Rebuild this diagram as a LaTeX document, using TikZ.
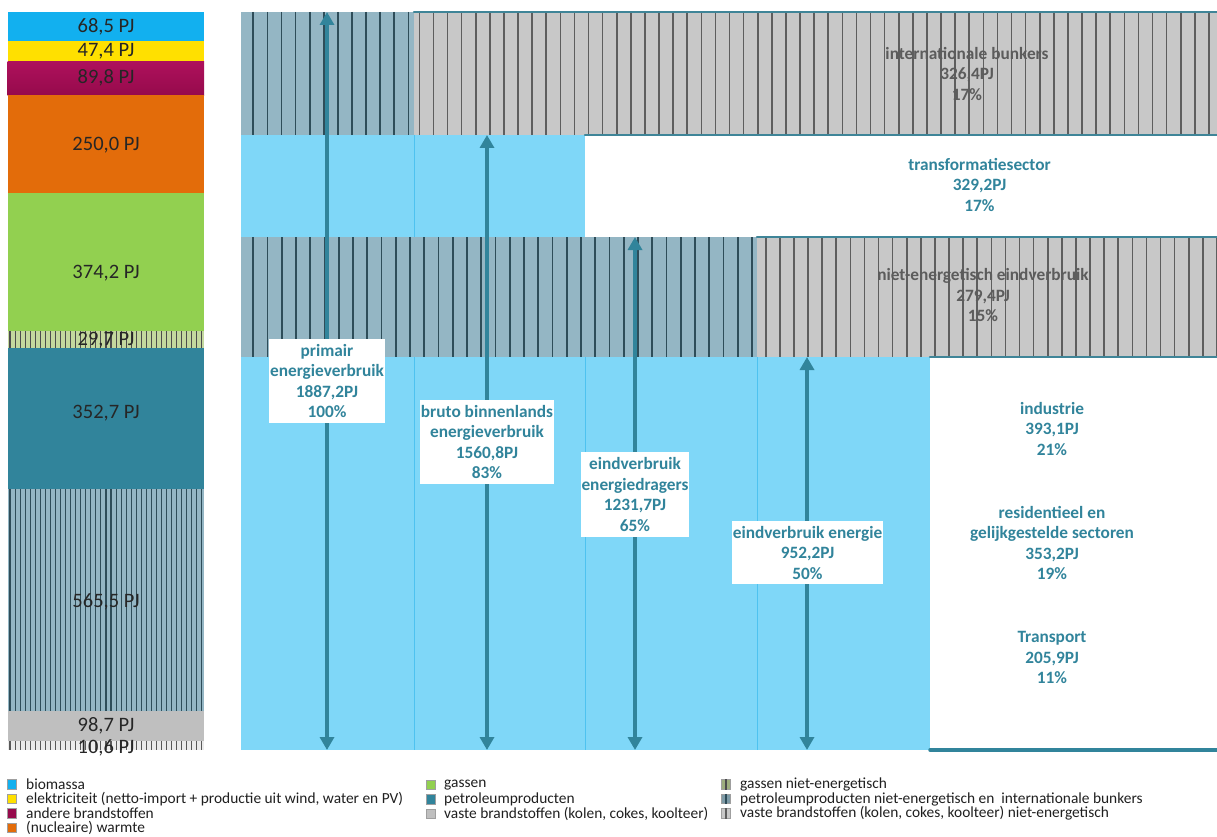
\documentclass[tikz,border=0pt]{standalone}
\usepackage{fontspec}
\setmainfont{Carlito}
\usetikzlibrary{arrows.meta}

% energy carrier colours
\definecolor{cbio}{HTML}{12B0EF}
\definecolor{celek}{HTML}{FFE000}
\definecolor{cotherA}{HTML}{AE115C}
\definecolor{cotherB}{HTML}{960A4C}
\definecolor{cheat}{HTML}{E36C0A}
\definecolor{cgas}{HTML}{92D050}
\definecolor{cgasne}{HTML}{C4D89E}
\definecolor{cpetro}{HTML}{31849B}
\definecolor{cpetrone}{HTML}{94B6C4}
\definecolor{csolid}{HTML}{BFBFBF}
\definecolor{csolidne}{HTML}{C8C8C8}
\definecolor{cstripeB}{HTML}{2E4D59}
\definecolor{cstripeG}{HTML}{5E5E5E}
% flow diagram colours
\definecolor{cflow}{HTML}{7FD7F8}
\definecolor{cdivider}{HTML}{4EC2F0}
\definecolor{cteal}{HTML}{31849B}
\definecolor{cedge}{HTML}{3F8598}
\definecolor{cgraytext}{HTML}{5C5C5C}

% vertically hatched rectangle:
% #1,#2 top-left; #3,#4 bottom-right; #5 first stripe x; #6 pitch;
% #7 base colour; #8 stripe colour; #9 stripe width
\newcommand\hatchrect[9]{%
  \fill[#7] (#1,#2) rectangle (#3,#4);
  \begin{scope}
    \clip (#1,#2) rectangle (#3,#4);
    \pgfmathtruncatemacro\hatchcount{(#3-#5)/#6}
    \foreach \hi in {0,...,\hatchcount}
      \draw[#8, line width=#9] ({#5+#6*\hi},#2) -- ({#5+#6*\hi},#4);
  \end{scope}}

\tikzset{
  stackval/.style={anchor=base, inner sep=0pt, font=\fontsize{20.5}{22}\selectfont, text=black!85},
  infobox/.style={fill=white, align=center, inner sep=0pt, text=cteal,
    font=\fontsize{17.3}{20.5}\selectfont\bfseries},
  sectorlabel/.style={align=center, inner sep=0pt, text=cteal,
    font=\fontsize{17.3}{20.5}\selectfont\bfseries},
  hatchlabel/.style={sectorlabel, text=cgraytext},
  flowarrow/.style={cteal, line width=3.5pt,
    {Triangle[width=14pt,length=13pt]}-{Triangle[width=14pt,length=13pt]}},
  bandedge/.style={cedge, line width=2.5pt, line cap=round},
  divider/.style={cdivider, line width=1pt},
  legmark/.style={draw=gray!75, line width=0.8pt, minimum size=9.5pt, inner sep=0pt},
  legtext/.style={anchor=west, inner sep=0pt, font=\fontsize{15.4}{15.4}\selectfont, text=black!88},
}

\begin{document}
\begin{tikzpicture}[x=1pt, y=-1pt]
\useasboundingbox (0,0) rectangle (1217,837);

% ---------- stacked column of primary energy by carrier ----------
\fill[cbio]  (7.5,12)   rectangle (204,41);
\fill[celek] (7.5,41)   rectangle (204,61.5);
\shade[top color=cotherA, bottom color=cotherB] (7.5,61.5) rectangle (204,95.3);
\fill[cheat] (7.5,95.3) rectangle (204,192.7);
\fill[cgas]  (7.5,192.7) rectangle (204,331);
\hatchrect{7.5}{331}{204}{347.5}{10}{5.05}{cgasne}{black!70}{1.1}
\fill[cpetro] (7.5,347.5) rectangle (204,489);
\hatchrect{7.5}{489}{204}{710.5}{10}{5.05}{cpetrone}{cstripeB}{1.1}
\fill[csolid] (7.5,710.5) rectangle (204,741);
\hatchrect{7.5}{741}{204}{750}{10}{5.05}{white!92!black}{black!65}{1.1}

\node[stackval] (vbio)   at (106,33)  {68,5 PJ};
\node[stackval] (velek)  at (106,57)  {47,4 PJ};
\node[stackval] (voth)   at (106,84)  {89,8 PJ};
\node[stackval] (vheat)  at (106,151) {250,0 PJ};
\node[stackval] (vgas)   at (106,278) {374,2 PJ};
\node[stackval] (vgasne) at (106,345) {29,7 PJ};
\node[stackval] (vpet)   at (106,418) {352,7 PJ};
\node[stackval] (vpetne) at (106,607) {565,5 PJ};
\node[stackval] (vsol)   at (106,731) {98,7 PJ};
\node[stackval] (vsolne) at (106,753) {10,6 PJ};

% ---------- flow bands ----------
\fill[cflow] (241,135) rectangle (585,237);
\fill[cflow] (241,357) rectangle (930,750);
\hatchrect{241}{12}{414}{135}{253.3}{14.1}{cpetrone}{cstripeB}{1.7}
\hatchrect{414}{12}{1217}{135}{419.3}{14.1}{csolidne}{cstripeG}{1.6}
\hatchrect{241}{237}{757}{357}{253.3}{14.25}{cpetrone}{cstripeB}{1.7}
\hatchrect{757}{237}{1217}{357}{765.7}{14.1}{csolidne}{cstripeG}{1.6}

\draw[divider] (414,135) -- (414,237);
\draw[divider] (414,357) -- (414,750);
\draw[divider] (585,357) -- (585,750);
\draw[divider] (757,357) -- (757,750);

\draw[bandedge] (414,12)  -- (1217,12);
\draw[bandedge] (585,135) -- (1217,135);
\draw[bandedge] (757,237) -- (1217,237);
\draw[bandedge] (930,357) -- (1217,357);
\draw[bandedge, cteal, line width=3.5pt] (930,750) -- (1217,750);

% ---------- measurement arrows ----------
\coordinate (pvTop) at (327,12);   \coordinate (pvBot) at (327,750);
\coordinate (bbTop) at (487,135);  \coordinate (bbBot) at (487,750);
\coordinate (edTop) at (635,237);  \coordinate (edBot) at (635,750);
\coordinate (eeTop) at (807,357);  \coordinate (eeBot) at (807,750);
\draw[flowarrow] (pvTop) -- (pvBot);
\draw[flowarrow] (bbTop) -- (bbBot);
\draw[flowarrow] (edTop) -- (edBot);
\draw[flowarrow] (eeTop) -- (eeBot);

\node[infobox, minimum width=116pt, minimum height=84pt] (primair) at (327,381)
  {primair\\energieverbruik\\1887,2PJ\\100\%};
\node[infobox, minimum width=134pt, minimum height=84pt] (bruto) at (487,442)
  {bruto binnenlands\\energieverbruik\\1560,8PJ\\83\%};
\node[infobox, minimum width=108pt, minimum height=85pt] (dragers) at (635,494.5)
  {eindverbruik\\energiedragers\\1231,7PJ\\65\%};
\node[infobox, minimum width=151pt, minimum height=63pt] (energie) at (807.5,552.5)
  {eindverbruik energie\\952,2PJ\\50\%};

% ---------- sector labels ----------
\node[hatchlabel]  (bunkers)  at (967,73.5)  {internationale bunkers\\326,4PJ\\17\%};
\node[sectorlabel] (transf)   at (979.5,184.5) {transformatiesector\\329,2PJ\\17\%};
\node[hatchlabel]  (nieteind) at (983,295)   {niet-energetisch eindverbruik\\279,4PJ\\15\%};
\node[sectorlabel] (industrie) at (1052,428.5) {industrie\\393,1PJ\\21\%};
\node[sectorlabel] (resid)    at (1052,543)  {residentieel en\\gelijkgestelde sectoren\\353,2PJ\\19\%};
\node[sectorlabel] (transp)   at (1052,657.5) {Transport\\205,9PJ\\11\%};

% ---------- legend ----------
\node[legmark, fill=cbio]  (lm1) at (12,784.5) {};
\node[legtext] (lt1) at (26,784.5) {biomassa};
\node[legmark, fill=celek] (lm2) at (12,799) {};
\node[legtext] (lt2) at (26,799) {elektriciteit (netto-import + productie uit wind, water en PV)};
\node[legmark, fill=cotherB] (lm3) at (12,813.5) {};
\node[legtext] (lt3) at (26,813.5) {andere brandstoffen};
\node[legmark, fill=cheat] (lm4) at (12,828) {};
\node[legtext] (lt4) at (26,828) {(nucleaire) warmte};

\node[legmark, fill=cgas]   (lm5) at (431,785) {};
\node[legtext] (lt5) at (444,785) {gassen};
\node[legmark, fill=cpetro] (lm6) at (431,799.5) {};
\node[legtext] (lt6) at (444,799.5) {petroleumproducten};
\node[legmark, fill=csolid] (lm7) at (431,814) {};
\node[legtext] (lt7) at (444,814) {vaste brandstoffen (kolen, cokes, koolteer)};

\node[legmark, fill=cgasne!80!black]  (lm8) at (726,784.5) {};
\draw[black!70, line width=1.2pt] (lm8.north) -- (lm8.south);
\node[legtext] (lt8) at (740,784.5) {gassen niet-energetisch};
\node[legmark, fill=cpetrone!85!black] (lm9) at (726,799) {};
\draw[cstripeB, line width=1.2pt] (lm9.north) -- (lm9.south);
\node[legtext] (lt9) at (740,799) {petroleumproducten niet-energetisch en\ \ internationale bunkers};
\node[legmark, fill=csolidne] (lm10) at (726,813.5) {};
\draw[cstripeG, line width=1.2pt] (lm10.north) -- (lm10.south);
\node[legtext] (lt10) at (740,813.5) {vaste brandstoffen (kolen, cokes, koolteer) niet-energetisch};

\end{tikzpicture}
\end{document}
